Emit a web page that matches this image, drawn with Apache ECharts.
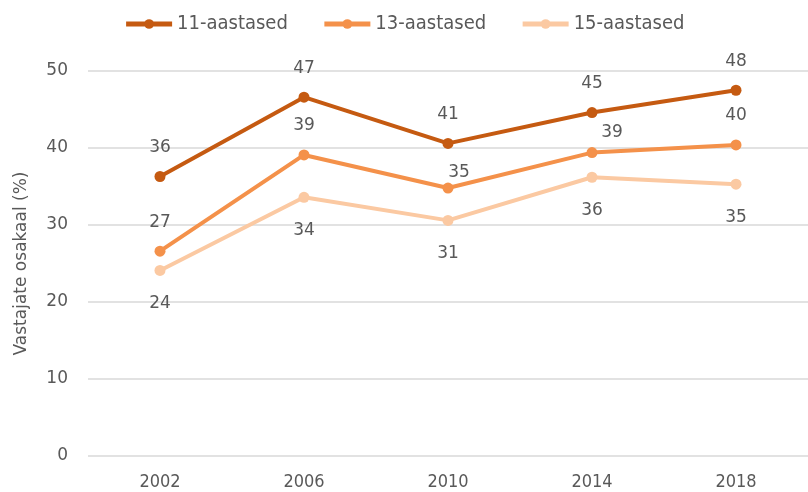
<!DOCTYPE html>
<html><head><meta charset="utf-8">
<script src="https://cdn.jsdelivr.net/npm/echarts@6/dist/echarts.min.js"></script>
<style>html,body{margin:0;padding:0;background:#fff}#c{width:808px;height:492px}</style>
</head><body><div id="c"></div>
<script>
const years = ['2002','2006','2010','2014','2018'];
const age11 = [36.3, 46.6, 40.6, 44.6, 47.5];
const age13 = [26.6, 39.1, 34.8, 39.4, 40.4];
const age15 = [24.1, 33.6, 30.6, 36.2, 35.3];
const seriesNames = ['11-aastased','13-aastased','15-aastased'];
const colors = ['#c55a11','#f4914a','#fbc9a2'];
const yTitle = 'Vastajate osakaal (%)';

const chart = echarts.init(document.getElementById('c'));
const textCol = '#595959';
const cond = 'DejaVu Sans Condensed';
function mk(name, data, color, pos, dist, offsets){
  const d = data.map((v,i)=> offsets && offsets[i] ? {value:v, label:{offset:offsets[i]}} : v);
  return {name, type:'line', data:d, symbol:'circle', symbolSize:11,
    lineStyle:{width:4, color}, itemStyle:{color},
    label:{show:true, position:pos, distance:dist, color:textCol, fontSize:17, fontFamily:'DejaVu Sans',
      formatter:p=>Math.round(p.value)}};
}
chart.setOption({
  animation:false,
  legend:{top:9, left:'center', itemWidth:46, itemHeight:12, itemGap:34,
    lineStyle:{width:5},
    textStyle:{color:textCol, fontSize:20, fontFamily:cond},
    data:seriesNames},
  grid:{left:88, right:-8, top:71, bottom:36, containLabel:false},
  xAxis:{type:'category', data:years, boundaryGap:true,
    axisLine:{show:false}, axisTick:{show:false},
    axisLabel:{color:textCol, fontSize:18, fontFamily:cond, margin:17}},
  yAxis:{type:'value', min:0, max:50, interval:10,
    name:yTitle, nameLocation:'middle', nameGap:58, nameRotate:90,
    nameTextStyle:{color:textCol, fontSize:17, fontFamily:'DejaVu Sans'},
    axisLine:{show:false}, axisTick:{show:false},
    axisLabel:{color:textCol, fontSize:17, fontFamily:'DejaVu Sans', margin:20},
    splitLine:{lineStyle:{color:'#d9d9d9', width:1.5}}},
  series:[
    mk(seriesNames[0], age11, colors[0], 'top', 15),
    mk(seriesNames[1], age13, colors[1], 'top', 15, [null,null,[11,14],[20,9],null]),
    mk(seriesNames[2], age15, colors[2], 'bottom', 19)
  ]
});
</script></body></html>
